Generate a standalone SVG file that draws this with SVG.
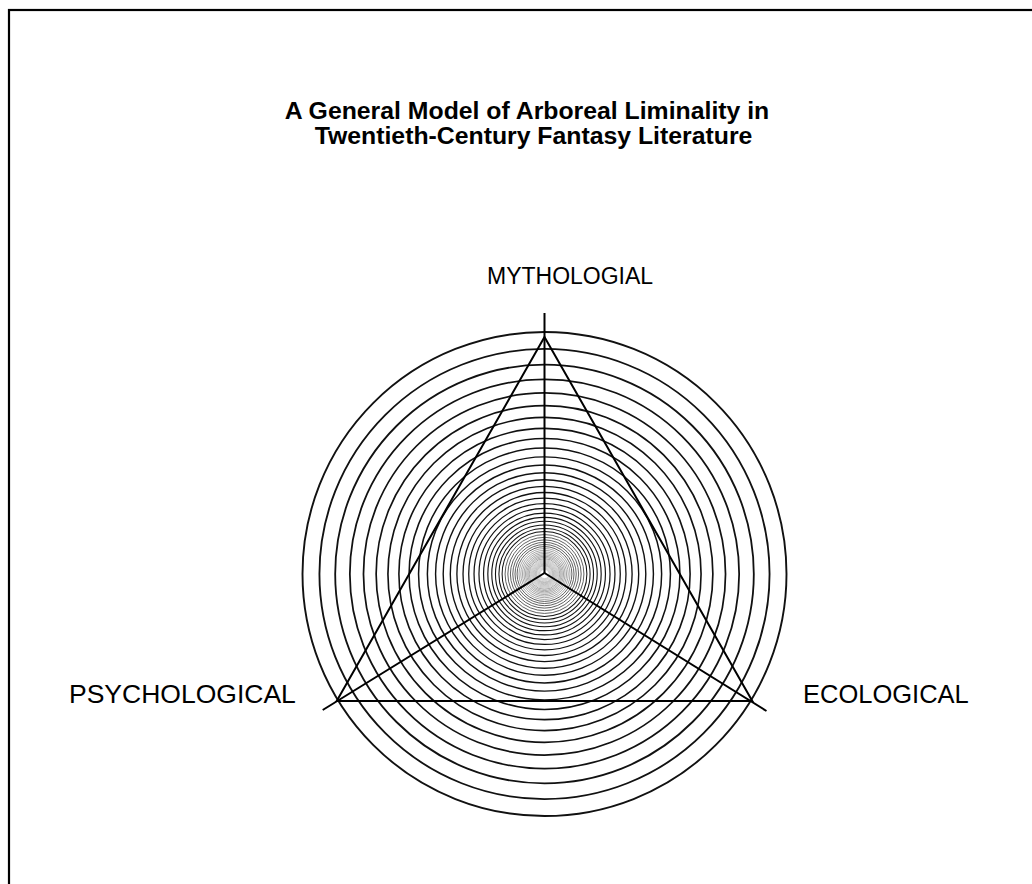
<svg xmlns="http://www.w3.org/2000/svg" width="1032" height="884" viewBox="0 0 1032 884">
<style>
.ttl{font-family:"Liberation Sans",Arial,sans-serif;font-weight:bold;font-size:24.8px;fill:#000;text-anchor:middle}
.lbl{font-family:"Liberation Sans",Arial,sans-serif;fill:#000}
.ring{fill:none;stroke:#111}
.g1{fill:none;stroke:#444;stroke-width:0.85}
.g2{fill:none;stroke:#777;stroke-width:0.65}
.g3{fill:none;stroke:#999;stroke-width:0.5}
.g4{fill:none;stroke:#bbb;stroke-width:0.4}
.ln{fill:none;stroke:#000;stroke-width:2;stroke-linejoin:miter}
</style>
<rect x="0" y="0" width="1032" height="884" fill="#fff"/>
<rect x="9" y="10" width="1060" height="920" fill="none" stroke="#000" stroke-width="2.2"/>
<g id="title">
<text class="ttl" x="527" y="119">A General Model of Arboreal Liminality in</text>
<text class="ttl" x="533.5" y="144">Twentieth-Century Fantasy Literature</text>
</g>
<g id="label-mythological"><text class="lbl" x="487" y="284" font-size="23">MYTHOLOGIAL</text></g>
<g id="label-psychological"><text class="lbl" x="69" y="703" font-size="26.5">PSYCHOLOGICAL</text></g>
<g id="label-ecological"><text class="lbl" x="803" y="703" font-size="25.5">ECOLOGICAL</text></g>
<g id="rings" transform="translate(544.5 574)">
<circle class="ring" r="242.0" stroke-width="1.90"/>
<circle class="ring" r="225.06" stroke-width="1.85"/>
<circle class="ring" r="209.31" stroke-width="1.81"/>
<circle class="ring" r="194.65" stroke-width="1.76"/>
<circle class="ring" r="181.03" stroke-width="1.72"/>
<circle class="ring" r="168.36" stroke-width="1.67"/>
<circle class="ring" r="156.57" stroke-width="1.63"/>
<circle class="ring" r="145.61" stroke-width="1.59"/>
<circle class="ring" r="135.42" stroke-width="1.55"/>
<circle class="ring" r="125.94" stroke-width="1.51"/>
<circle class="ring" r="117.12" stroke-width="1.48"/>
<circle class="ring" r="108.92" stroke-width="1.44"/>
<circle class="ring" r="101.30" stroke-width="1.40"/>
<circle class="ring" r="94.21" stroke-width="1.37"/>
<circle class="ring" r="87.61" stroke-width="1.33"/>
<circle class="ring" r="81.48" stroke-width="1.30"/>
<circle class="ring" r="75.78" stroke-width="1.27"/>
<circle class="ring" r="70.47" stroke-width="1.24"/>
<circle class="ring" r="65.54" stroke-width="1.21"/>
<circle class="ring" r="60.95" stroke-width="1.18"/>
<circle class="ring" r="56.68" stroke-width="1.15"/>
<circle class="ring" r="52.72" stroke-width="1.12"/>
<circle class="ring" r="49.03" stroke-width="1.09"/>
<circle class="ring" r="45.59" stroke-width="1.06"/>
<circle class="ring" r="42.40" stroke-width="1.03"/>
<circle class="g1" r="39.43"/>
<circle class="g1" r="36.67"/>
<circle class="g1" r="34.11"/>
<circle class="g1" r="31.72"/>
<circle class="g1" r="29.50"/>
<circle class="g1" r="27.43"/>
<circle class="g2" r="25.51"/>
<circle class="g2" r="23.73"/>
<circle class="g2" r="22.07"/>
<circle class="g2" r="20.52"/>
<circle class="g2" r="19.08"/>
<circle class="g2" r="17.75"/>
<circle class="g2" r="16.51"/>
<circle class="g2" r="15.35"/>
<circle class="g3" r="14.28"/>
<circle class="g3" r="13.28"/>
<circle class="g3" r="12.35"/>
<circle class="g3" r="11.48"/>
<circle class="g3" r="10.68"/>
<circle class="g3" r="9.93"/>
<circle class="g3" r="9.24"/>
<circle class="g3" r="8.59"/>
<circle class="g3" r="7.99"/>
<circle class="g4" r="7.43"/>
<circle class="g4" r="6.91"/>
<circle class="g4" r="6.43"/>
<circle class="g4" r="5.98"/>
<circle class="g4" r="5.56"/>
<circle class="g4" r="5.17"/>
<circle class="g4" r="4.81"/>
<circle class="g4" r="4.47"/>
</g>
<g id="connectors">
<path class="ln" d="M544.5 573 L544.5 313"/>
<path class="ln" d="M544.5 573 L322.7 710"/>
<path class="ln" d="M544.5 573 L766.5 711"/>
<path class="ln" d="M544.5 337 L336.7 701 L752.3 701 Z"/>
</g>
</svg>
